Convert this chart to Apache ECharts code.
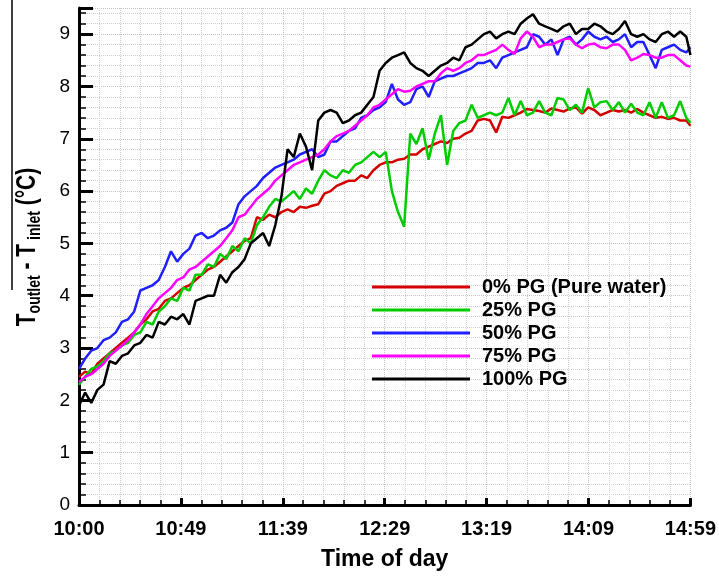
<!DOCTYPE html>
<html>
<head>
<meta charset="utf-8">
<title>Outlet - inlet temperature</title>
<script src="https://cdn.jsdelivr.net/npm/echarts@6/dist/echarts.min.js"></script>
<style>
  html, body { margin: 0; padding: 0; background: #fff; }
  #main { width: 719px; height: 576px; }
</style>
</head>
<body>
<div id="main"></div>
<script>
// minutes after 10:00
var minutes = [0,3,6,9,12,15,18,21,24,27,30,33,36,39,42,45,48,51,54,57,
  60,63,66,69,72,75,78,81,84,87,90,93,96,99,102,105,108,111,114,117,
  120,123,126,129,132,135,138,141,144,147,150,153,156,159,162,165,168,171,174,177,
  180,183,186,189,192,195,198,201,204,207,210,213,216,219,222,225,228,231,234,237,
  240,243,246,249,252,255,258,261,264,267,270,273,276,279,282,285,288,291,294,297,299];

var tickLabels = ['10:00', '10:49', '11:39', '12:29', '13:19', '14:09', '14:59'];
var seriesNames = ['0% PG (Pure water)', '25% PG', '50% PG', '75% PG', '100% PG'];
var seriesColors = ['#d40000', '#00cc00', '#1f1fff', '#ff00ff', '#000000'];

var pg0 = [2.45,2.55,2.5,2.7,2.8,2.9,3.0,3.1,3.2,3.3,
  3.45,3.55,3.7,3.75,3.9,3.95,4.05,4.15,4.2,4.3,
  4.4,4.5,4.55,4.65,4.75,4.85,4.95,5.05,5.1,5.5,
  5.45,5.55,5.5,5.6,5.65,5.6,5.7,5.68,5.72,5.75,
  5.95,6.0,6.1,6.15,6.2,6.2,6.3,6.25,6.4,6.5,
  6.55,6.55,6.6,6.62,6.7,6.7,6.8,6.85,6.9,6.95,
  6.92,7.0,7.02,7.1,7.15,7.35,7.38,7.35,7.12,7.42,
  7.4,7.45,7.5,7.57,7.55,7.53,7.5,7.58,7.55,7.52,
  7.58,7.6,7.48,7.6,7.55,7.45,7.5,7.55,7.52,7.55,
  7.5,7.57,7.5,7.45,7.4,7.42,7.38,7.4,7.35,7.35,7.25];

var pg25 = [2.3,2.45,2.6,2.65,2.75,2.9,2.95,3.05,3.1,3.25,
  3.3,3.5,3.45,3.7,3.8,3.95,3.9,4.15,4.1,4.4,
  4.4,4.6,4.55,4.8,4.7,4.95,4.85,5.1,5.0,5.35,
  5.5,5.7,5.85,5.8,5.9,6.0,5.85,6.05,5.95,6.2,
  6.4,6.3,6.25,6.4,6.35,6.5,6.55,6.65,6.75,6.65,
  6.75,6.0,5.6,5.32,7.1,6.9,7.2,6.6,7.1,7.45,
  6.5,7.15,7.3,7.35,7.65,7.4,7.45,7.5,7.45,7.5,
  7.78,7.45,7.72,7.45,7.5,7.72,7.5,7.45,7.78,7.75,
  7.55,7.65,7.5,7.97,7.6,7.7,7.72,7.55,7.7,7.5,
  7.67,7.5,7.45,7.7,7.4,7.7,7.4,7.45,7.72,7.4,7.3];

var pg50 = [2.6,2.8,2.95,3.0,3.15,3.2,3.3,3.5,3.55,3.7,
  4.1,4.15,4.2,4.3,4.55,4.85,4.65,4.8,4.9,5.15,
  5.2,5.1,5.15,5.25,5.3,5.4,5.75,5.9,6.0,6.1,
  6.25,6.35,6.45,6.5,6.55,6.6,6.7,6.75,6.8,6.65,
  6.7,6.95,6.95,7.05,7.15,7.2,7.4,7.45,7.55,7.6,
  7.7,8.05,7.75,7.65,7.7,7.95,8.0,7.8,8.1,8.15,
  8.2,8.2,8.25,8.3,8.35,8.45,8.45,8.5,8.35,8.55,
  8.6,8.65,8.7,8.75,9.0,8.95,8.8,8.9,8.6,8.9,
  8.95,8.8,8.9,9.05,8.95,8.9,8.95,8.85,8.9,9.0,
  8.75,8.85,8.85,8.6,8.35,8.7,8.75,8.8,8.7,8.65,8.75];

var pg75 = [2.35,2.45,2.5,2.6,2.7,2.85,2.95,3.05,3.15,3.3,
  3.45,3.65,3.8,3.95,4.05,4.15,4.3,4.35,4.5,4.55,
  4.65,4.75,4.85,4.95,5.1,5.25,5.5,5.55,5.7,5.85,
  5.95,6.05,6.2,6.3,6.4,6.5,6.55,6.6,6.65,6.7,
  6.8,6.95,7.05,7.1,7.15,7.25,7.35,7.45,7.6,7.65,
  7.75,7.85,7.95,7.9,7.92,8.0,8.05,8.1,8.1,8.25,
  8.35,8.3,8.35,8.45,8.5,8.6,8.6,8.65,8.7,8.8,
  8.7,8.62,8.92,9.05,8.95,8.75,8.8,8.8,8.85,8.9,
  8.92,8.8,8.73,8.8,8.82,8.75,8.73,8.8,8.8,8.7,
  8.5,8.55,8.62,8.6,8.55,8.55,8.6,8.6,8.5,8.4,8.38];

var pg100 = [1.9,2.15,1.95,2.2,2.3,2.75,2.7,2.85,2.9,3.05,
  3.1,3.25,3.2,3.5,3.45,3.6,3.55,3.65,3.45,3.9,
  3.95,4.0,4.0,4.4,4.25,4.45,4.55,4.7,5.0,5.1,
  5.2,4.95,5.35,5.9,6.8,6.65,7.1,6.85,6.4,7.35,
  7.5,7.55,7.5,7.3,7.35,7.45,7.5,7.65,7.8,8.3,
  8.45,8.55,8.6,8.65,8.45,8.35,8.3,8.2,8.3,8.4,
  8.45,8.55,8.5,8.75,8.8,8.9,9.0,9.05,8.92,9.0,
  9.05,9.0,9.2,9.3,9.38,9.2,9.15,9.1,9.05,9.15,
  9.2,9.0,9.1,9.1,9.2,9.15,9.05,9.0,9.1,9.25,
  9.0,8.95,9.0,8.9,8.85,9.0,9.05,8.95,9.05,8.95,8.6];

var font = '"Liberation Sans", Arial, sans-serif';
var xStep = 299 / 6;

function pairs(vals) {
  return minutes.map(function (m, i) { return [m, vals[i]]; });
}

var allValues = [pg0, pg25, pg50, pg75, pg100];
var series = allValues.map(function (vals, i) {
  return {
    name: seriesNames[i],
    type: 'line',
    data: pairs(vals),
    showSymbol: false,
    lineStyle: { width: 2.5, color: seriesColors[i] },
    itemStyle: { color: seriesColors[i] },
    animation: false
  };
});

var chart = echarts.init(document.getElementById('main'));
chart.setOption({
  backgroundColor: '#fff',
  animation: false,
  grid: { left: 79, right: 28, top: 8, bottom: 70 },
  legend: {
    orient: 'vertical',
    left: 367,
    top: 272,
    icon: 'rect',
    itemWidth: 98,
    itemHeight: 3,
    itemGap: 3,
    data: seriesNames,
    textStyle: {
      fontFamily: font, fontSize: 20, fontWeight: 'bold', color: '#000',
      lineHeight: 20, padding: [0, 0, 0, 7]
    }
  },
  xAxis: {
    type: 'value',
    min: 0,
    max: 299,
    interval: xStep,
    name: 'Time of day',
    nameLocation: 'middle',
    nameGap: 43,
    nameTextStyle: { fontFamily: font, fontSize: 23, fontWeight: 'bold', color: '#000' },
    axisLine: { lineStyle: { color: '#000', width: 3 } },
    axisTick: { inside: true, length: 7, lineStyle: { color: '#000', width: 3 } },
    minorTick: { show: true, splitNumber: 5, length: 5, lineStyle: { color: '#000', width: 1.5 } },
    axisLabel: {
      margin: 14,
      fontFamily: font, fontSize: 20, fontWeight: 'bold', color: '#000',
      showMinLabel: true, showMaxLabel: true,
      formatter: function (v) { return tickLabels[Math.round(v / xStep)]; }
    },
    splitLine: { show: true, lineStyle: { color: '#c4c4c4', type: 'dotted', width: 1 } },
    minorSplitLine: { show: true, lineStyle: { color: '#d0d0d0', type: 'dotted', width: 1 } }
  },
  yAxis: {
    type: 'value',
    min: 0,
    max: 9.5,
    interval: 1,
    axisLine: { show: true, lineStyle: { color: '#000', width: 3 } },
    axisTick: { inside: true, length: 14, lineStyle: { color: '#000', width: 3 } },
    minorTick: { show: true, splitNumber: 5, length: 7, lineStyle: { color: '#000', width: 1.5 } },
    axisLabel: {
      margin: 9, fontFamily: font, fontSize: 19, color: '#000', showMaxLabel: false
    },
    splitLine: { show: true, lineStyle: { color: '#c4c4c4', type: 'dotted', width: 1 } },
    minorSplitLine: { show: true, lineStyle: { color: '#d0d0d0', type: 'dotted', width: 1 } }
  },
  graphic: [
    {
      type: 'line',
      shape: { x1: 12, y1: 0, x2: 12, y2: 290 },
      style: { stroke: '#000', lineWidth: 1.5 }
    },
    {
      type: 'text',
      x: 27,
      y: 247,
      rotation: Math.PI / 2,
      scaleY: 1.3,
      style: {
        text: '{m|T}{s|outlet}{m| - T}{s| inlet}{m| (°C)}',
        align: 'center',
        verticalAlign: 'middle',
        fill: '#000',
        rich: {
          m: { fontFamily: font, fontSize: 21, fontWeight: 'bold', fill: '#000', lineHeight: 26, verticalAlign: 'middle' },
          s: { fontFamily: font, fontSize: 14, fontWeight: 'bold', fill: '#000', lineHeight: 14, verticalAlign: 'bottom' }
        }
      }
    }
  ],
  series: series
});
</script>
</body>
</html>
